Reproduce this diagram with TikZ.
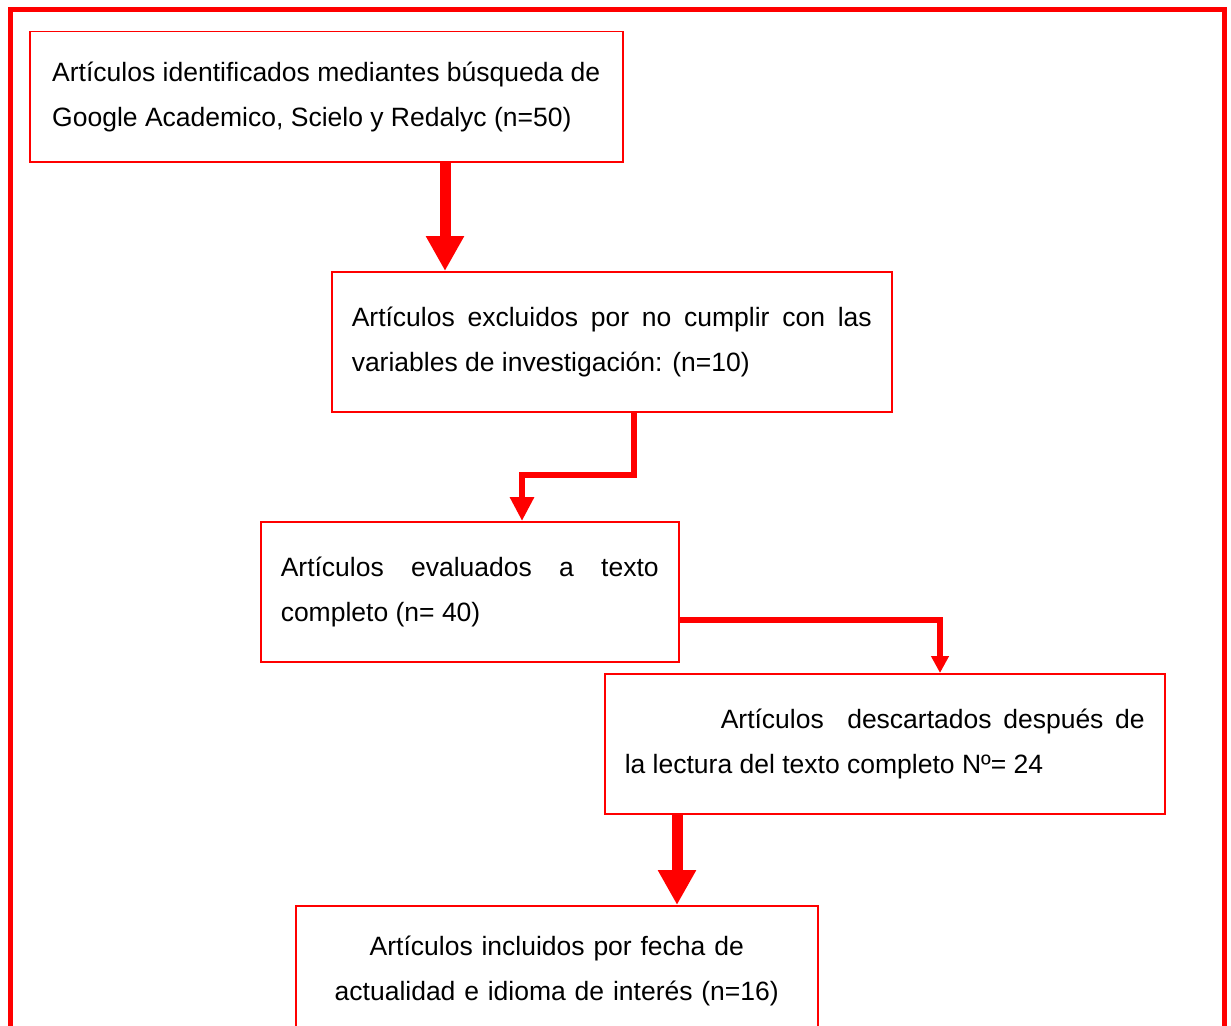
\documentclass[tikz,border=0pt]{standalone}
\usepackage{fontspec}
\setmainfont{Liberation Sans}
\usepackage{tikz}
\usetikzlibrary{shapes,positioning,arrows.meta}

\begin{document}
\begin{tikzpicture}[x=1pt,y=-1pt,
      every node/.style={font=\fontsize{26.5}{44.5}\selectfont},
      gruesa/.style={draw=red,line width=11pt,-{Triangle[width=36pt,length=35pt]}},
      delgada/.style={draw=red,line width=6pt,-{Triangle[width=23pt,length=24pt]}},
      fina/.style={draw=red,line width=6pt,-{Triangle[width=17pt,length=17pt]}}]
  \tikzstyle{caja} = [draw=red,line width=1.5pt,anchor=north west,inner xsep=20pt,inner ysep=0pt,minimum height=140pt]
  \useasboundingbox (0,0) rectangle (1231,1025);
  \clip (0,0) rectangle (1231,1025);
  \draw[red,line width=5pt] (10,10) rectangle (1224.5,1060);
  \node (paso_1) [caja,minimum width=593pt,minimum height=130pt,align=left] at (29,31)
    {Artículos identificados mediantes búsqueda de\\Google Academico, Scielo y Redalyc (n=50)};
  \node (paso_2) [caja,text width=520pt,align=justify] at (331,271)
    {Artículos excluidos por no cumplir con las\linebreak variables de investigación: (n=10)};
  \node (paso_3) [caja,text width=378pt,align=justify] at (260,521)
    {Artículos evaluados a texto\linebreak completo (n= 40)};
  \node (paso_4) [caja,text width=520pt,align=justify] at (604,673)
    {\hspace*{96pt}Artículos\ \ descartados después de\linebreak la lectura del texto completo Nº= 24};
  \node (paso_5) [caja,text width=482pt,minimum height=130pt,align=center] at (295,905)
    {Artículos incluidos por fecha de\\actualidad e idioma de interés (n=16)};
  \draw[gruesa] (paso_1.south -| 445,0) -- (paso_2.north -| 445,0);
  \draw[delgada] (paso_2.south -| 634,0) -- ++(0,62) -| (paso_3.north -| 522,0);
  \draw[fina] (paso_3.east |- 0,620) -| (paso_4.north -| 940,0);
  \draw[gruesa] (paso_4.south -| 677,0) -- (paso_5.north -| 677,0);
\end{tikzpicture}
\end{document}
